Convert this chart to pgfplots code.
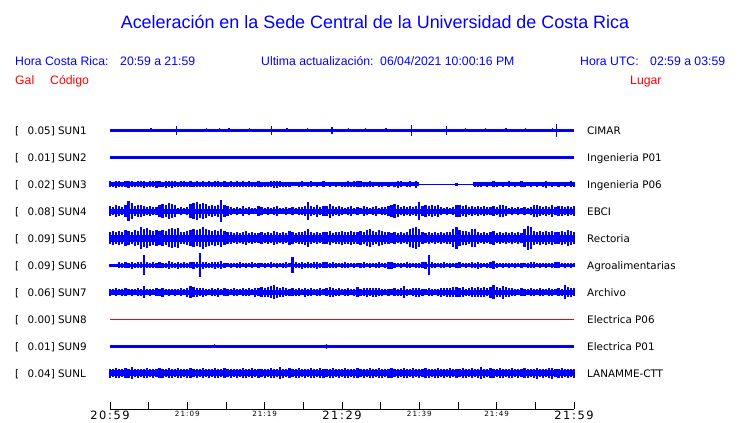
\documentclass[border=0pt]{standalone}
\usepackage{fontspec}
\usepackage{pgfplots}
\usepackage{pgfplotstable}
\pgfplotsset{compat=1.18}
\setmainfont{Liberation Sans}
\newfontfamily\dv{DejaVu Sans}
\newfontfamily\dvw[LetterSpace=14]{DejaVu Sans}
\definecolor{hblue}{RGB}{0,0,255}
\definecolor{hred}{RGB}{255,0,0}

% half-amplitudes (px) of the traces, sampled every 0.4 min
\pgfplotstableread{
x s3 s4 s5 s6 s7 sl
0 3 5 6 1.5 3.5 4.5
0.4 2.5 4 7 1.5 3 4
0.8 3.5 6 6 1.5 4 5
1.2 3 5 7 3 3 4.5
1.6 2.5 4 6 2.5 3.5 4
2.0 3 6 8 3 4 5
2.4 3.5 10 7 2.5 3 4.5
2.8 3 8 6 3.3 3.5 6
3.2 2.5 5 8 2.5 3 4
3.6 3 6 7 3 4 4.5
4.0 3 6 11 3 3.5 4
4.4 3.5 5 9 10 6 4.5
4.8 2.5 4 10 3 3 5
5.2 3 5 8 2.5 3.5 4
5.6 3 4 7 3 3 4.5
6.0 3.5 4 8 2.5 4 4
6.4 3 6 7 3 3.5 5
6.8 2.5 7 8 2.5 4.5 4.5
7.2 3.5 6 7 2.5 3 4
7.6 3 8 9 4 3.5 5
8.0 3.5 7 10 3 3 4.5
8.4 3 6 9 2.5 3.5 4
8.8 2.5 3 10 3.5 3 5
9.2 3 4 6 2.5 4 4.5
9.6 3 3 6 3 3 4
10.0 2.5 4 7 2.5 4.5 4.5
10.4 3 7 8 3 6 5
10.8 2.5 8 9 3.5 5 4
11.2 3 9 8 3 4.5 4.5
11.6 2.5 7 9 12 4 4
12.0 3 8 11 3.5 4.5 5
12.4 2.5 7 9 3 3.5 4
12.8 3 5 8 2.5 3 4.5
13.2 2.5 6 7 3 4 4
13.6 3 5 8 3.5 3.5 5
14.0 3 6 7 3 4.5 4.5
14.4 2.5 11 9 4 3 4
14.8 3 6 7 2.5 4 5
15.2 2.5 5 6 2 3.5 4
15.6 3 4 6 2.5 3 4.5
16.0 2.5 3 5 2 4 4
16.4 3 4 6 2.5 3.5 4.5
16.8 2.5 3 5 3 3 4
17.2 3 5 6 2 4 5
17.6 2.5 3 7 2.5 3.5 4.5
18.0 3 4 5 2 4 4
18.4 2.5 3 6 3 3 5
18.8 2.5 3 5 2 4.5 4
19.2 3 5 5 2.5 4 4.5
19.6 2.5 4 6 2 5 4
20.0 2.5 3 5 2.5 4.5 4.5
20.4 2.5 4 6 2 5 4
20.8 3 3 5 3 6 5
21.2 3.5 4 7 2 7 4.5
21.6 3.5 5 6 2.5 5.5 4
22.0 3 3 5 2 4.5 6
22.4 2.5 3 6 2.5 5 4.5
22.8 2.5 4 5 3 4 4
23.2 2.5 3 7 2 3.5 5
23.6 2 4 6 8 4 4
24.0 2 3 5 3 3.5 4.5
24.4 2.5 4 6 2.5 4 5
24.8 3 4 6 3.5 3 4
25.2 2 5 7 2.5 4.5 4.5
25.6 2.5 9 9 3 3.5 4
26.0 3 5 6 2.5 4 5
26.4 2 4 5 3 3 4.5
26.8 2.5 6 6 3.5 3.5 4
27.2 2 4 5 2.5 4 5
27.6 3 5 6 3 3 4.5
28.0 2 5 6 3 4 4
28.4 2.5 7 7 2.5 5 4.5
28.8 2 5 5 3 4.5 5
29.2 2.5 4 6 2.5 3.5 4
29.6 2 5 6 2 4 4.5
30.0 2.5 4 7 2.5 3 4
30.4 2.5 3 6 3 3.5 5
30.8 3 4 6 2.5 4 4.5
31.2 2.5 5 7 2 3 4
31.6 3 3 6 2.5 3.5 4.5
32.0 3 4 6 2 5 5
32.4 3 3 7 2.5 3.5 4
32.8 2.5 5 6 3 4 4.5
33.2 2.5 4 8 2 4.5 4
33.6 3 3 9 2.5 4 5
34.0 2.5 4 7 2 4.5 4.5
34.4 2 5 6 2.5 4.5 4
34.8 2.5 3 8 3 4 5
35.2 2.5 4 7 2 3.5 4.5
35.6 2 4 6 2.5 3 4
36.0 2.5 5 6 3.5 3.5 4.5
36.4 2 6 5 3.5 3 5
36.8 2.5 7 6 2.5 4 4
37.2 3.5 6 5 2 3.5 4.5
37.6 3 4 6 2.5 4 4
38.0 2 5 5 2 6 5
38.4 2.5 4 6 3 3.5 4.5
38.8 3 5 9 2.5 3 4
39.2 2 4 10 2 4 5
39.6 3.5 5 11 2.5 4.5 4
40.0 0 9 9 2.5 4.5 4.5
40.4 0 5 6 3 3.5 4
40.8 0 6 5 3.5 3 5
41.2 0 5 6 10 4 4.5
41.6 0 6 5 3 3.5 4
42.0 0 5 6 2.5 3 4.5
42.4 0 6 5 2 3.5 5
42.8 0 4 6 2.5 4.5 4
43.2 0 3 5 3 4 4.5
43.6 0 4 6 2 4.5 4
44.0 0 3 6 2.5 4.5 5
44.4 0 4 9 2 5 4
44.8 1.7 6 11 2.5 5 4.5
45.2 0 6 8 3 4.5 4
45.6 0 5 7 2 5 5
46.0 0 6 7 2.5 3.5 4.5
46.4 0 4 6 2 4 4
46.8 0 5 9 3 5 5
47.2 2.5 4 9 2.5 4.5 4
47.6 2.5 5 6 3.5 5 4.5
48.0 2.5 4 5 2.5 4.5 6
48.4 2 5 6 2 5 4.5
48.8 2.5 4 5 2.5 4 4
49.2 2 4 6 3 5.5 5
49.6 3 5 7 4 7 4.5
50.0 2.5 4 5 2.5 5 4
50.4 2 6 6 2 4.5 5
50.8 2.5 6 5 2.5 6.5 4.5
51.2 2 5 6 2 5 4
51.6 3 3 5 2.5 4.5 4.5
52.0 2 4 6 2 4 5
52.4 2.5 3 5 2.5 3.5 4
52.8 2 4 6 2 3 4.5
53.2 3 3 5 2.5 4 4
53.6 2.5 4 9 2 3.5 5
54.0 2 3 12 2.5 3 4.5
54.4 2.5 4 11 3 4 4
54.8 2 6 7 3 3.5 4.5
55.2 2.5 6 6 2 3 5.5
55.6 2 5 7 2.5 4 4
56.0 2.5 4 6 2 3.5 4.5
56.4 3.5 5 7 2.5 3 4
56.8 2 4 6 2 4 5
57.2 2.5 6 7 2.5 3.5 5.5
57.6 2 4 6 3 3 4
58.0 2.5 5 6 3 4 4.5
58.4 2 5 7 2 3.5 5
58.8 2.5 4 6 2.5 7 4
59.2 2 5 8 2 5 4.5
59.6 3 4 7 2.5 4.5 4
60.0 2.5 5 6 2 4 4.5
}\dense

\pgfplotstableread{
x a
5.3 2
8.6 4.5
12.5 2
14.2 2
15.4 2
18.0 2
20.9 4.7
22.9 2
25.5 2
28.7 3.7
30.8 2
33.0 2
35.7 2
39.0 5.7
43.5 4.3
46.0 2
48.6 2
51.2 2
53.7 2
57.2 2
57.7 6.7
}\sunone

\pgfplotstableread{
x a
3 1.8
9.5 1.8
17 1.8
24 1.8
31 1.8
38 1.8
45 1.8
52 1.8
58 1.8
}\suntwo

\pgfplotstableread{
x a
13.5 2
28.0 2.5
}\sunnine

\pgfplotsset{
  errb/.style={draw=none, mark=none, forget plot,
    error bars/.cd, y dir=both, y explicit, error mark=none,
    error bar style={draw=hblue, line width=2.2bp}},
  errs/.style={draw=none, mark=none, forget plot,
    error bars/.cd, y dir=both, y explicit, error mark=none,
    error bar style={draw=hblue, line width=1.3bp}},
}

\begin{document}
\begin{tikzpicture}
\path[use as bounding box] (0,0) rectangle (740bp,-423bp);
\fill[white] (0,0) rectangle (740bp,-423bp);

% title and header
\node[anchor=base, inner sep=0pt, text=hblue, font=\fontsize{18}{20}\selectfont] at (375bp,-28.5bp) {Aceleración en la Sede Central de la Universidad de Costa Rica};
\begin{scope}[every node/.style={anchor=base west, inner sep=0pt, font=\fontsize{12.3}{14}\selectfont}]
\node[text=hblue] at (15bp,-65bp) {Hora Costa Rica:};
\node[text=hblue] at (120bp,-65bp) {20:59 a 21:59};
\node[text=hblue] at (261bp,-65bp) {Ultima actualización:};
\node[text=hblue] at (380bp,-65bp) {06/04/2021 10:00:16 PM};
\node[text=hblue] at (580bp,-65bp) {Hora UTC:};
\node[text=hblue] at (650bp,-65bp) {02:59 a 03:59};
\node[text=hred] at (15bp,-84.3bp) {Gal};
\node[text=hred] at (50bp,-84.3bp) {Código};
\node[text=hred] at (630bp,-84.3bp) {Lugar};
\end{scope}

% station labels
\foreach \b/\v/\c/\p in {134/0.05/SUN1/CIMAR, 161/0.01/SUN2/Ingenieria P01, 188/0.02/SUN3/Ingenieria P06, 215/0.08/SUN4/EBCI, 242/0.09/SUN5/Rectoria, 269/0.09/SUN6/Agroalimentarias, 296/0.06/SUN7/Archivo, 323/0.00/SUN8/Electrica P06, 350/0.01/SUN9/Electrica P01, 377/0.04/SUNL/LANAMME-CTT}{
  \node[anchor=base west, inner sep=0pt, font=\dv\fontsize{10.4}{12}\selectfont] at (15bp,{-\b*1bp}) {[};
  \node[anchor=base west, inner sep=0pt, font=\dv\fontsize{10.4}{12}\selectfont] at (27.5bp,{-\b*1bp}) {\v] \c};
  \node[anchor=base west, inner sep=0pt, font=\dv\fontsize{10.4}{12}\selectfont] at (587bp,{-\b*1bp}) {\p};
}

\begin{axis}[
  at={(110bp,-409bp)}, anchor=south west,
  scale only axis, width=464bp, height=409bp,
  xmin=0, xmax=60, ymin=-409, ymax=0,
  axis x line=bottom, axis y line=none,
  axis line style={-, black, line width=0.8bp},
  clip=false,
  xtick={0,5,...,60},
  xticklabels={{\fontsize{11.5}{11}\selectfont 20:59},,{\raisebox{2.4bp}{\fontsize{7.2}{7}\selectfont 21:09}},,{\raisebox{2.4bp}{\fontsize{7.2}{7}\selectfont 21:19}},,{\fontsize{11.5}{11}\selectfont 21:29},,{\raisebox{2.4bp}{\fontsize{7.2}{7}\selectfont 21:39}},,{\raisebox{2.4bp}{\fontsize{7.2}{7}\selectfont 21:49}},,{\fontsize{11.5}{11}\selectfont 21:59}},
  xticklabel style={anchor=base, inner sep=0pt, yshift=-10.3bp, text=black, font=\dvw},
  tick align=inside, major tick length=7bp,
  tick style={black, line width=0.8bp},
]
% SUN1
\addplot[hblue, line width=3bp] coordinates {(0,-130.3) (60,-130.3)};
\addplot[errs] table[x=x, y expr=-130.3, y error=a] {\sunone};
% SUN2
\addplot[hblue, line width=2.7bp] coordinates {(0,-157.3) (60,-157.3)};
\addplot[errs] table[x=x, y expr=-157.3, y error=a] {\suntwo};
% SUN3
\addplot[hblue, line width=1.3bp] coordinates {(0,-184.3) (60,-184.3)};
\addplot[hblue, line width=3.7bp] coordinates {(0,-184.3) (40,-184.3)};
\addplot[hblue, line width=3.7bp] coordinates {(46.9,-184.3) (60,-184.3)};
\addplot[errb] table[x=x, y expr=-184.3, y error=s3] {\dense};
% SUN4
\addplot[hblue, line width=5.3bp] coordinates {(0,-211.3) (60,-211.3)};
\addplot[errb] table[x=x, y expr=-211.3, y error=s4] {\dense};
% SUN5
\addplot[hblue, line width=7.5bp] coordinates {(0,-238.3) (60,-238.3)};
\addplot[errb] table[x=x, y expr=-238.3, y error=s5] {\dense};
% SUN6
\addplot[hblue, line width=3.4bp] coordinates {(0,-265.3) (60,-265.3)};
\addplot[errb] table[x=x, y expr=-265.3, y error=s6] {\dense};
% SUN7
\addplot[hblue, line width=4.4bp] coordinates {(0,-292.3) (60,-292.3)};
\addplot[errb] table[x=x, y expr=-292.3, y error=s7] {\dense};
% SUN8
\addplot[hred, line width=1bp] coordinates {(0,-319.3) (60,-319.3)};
% SUN9
\addplot[hblue, line width=3bp] coordinates {(0,-346.3) (60,-346.3)};
\addplot[errs] table[x=x, y expr=-346.3, y error=a] {\sunnine};
% SUNL
\addplot[hblue, line width=6bp] coordinates {(0,-373.3) (60,-373.3)};
\addplot[errb] table[x=x, y expr=-373.3, y error=sl] {\dense};
\end{axis}
\end{tikzpicture}
\end{document}
